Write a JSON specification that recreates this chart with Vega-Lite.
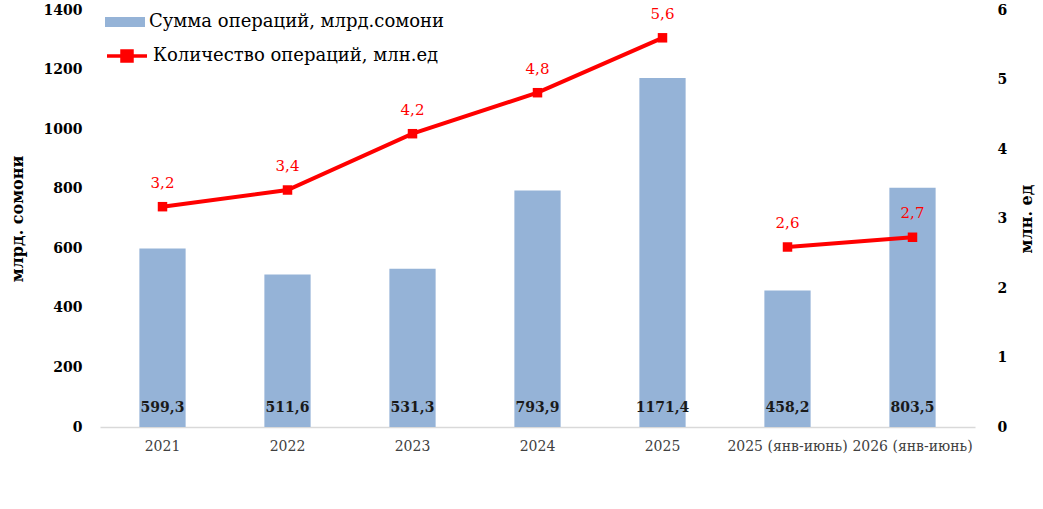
{
  "$schema": "https://vega.github.io/schema/vega-lite/v6.json",
  "width": 875,
  "height": 417,
  "autosize": {"type": "none"},
  "padding": {"left": 100, "top": 10, "right": 68, "bottom": 82},
  "background": "white",
  "config": {
    "view": {"stroke": null},
    "font": "DejaVu Serif",
    "locale": {"number": {"decimal": ",", "thousands": "", "grouping": [3], "currency": ["", ""]}}
  },
  "data": {
    "values": [
      {"period": "2021", "sum": 599.3, "count": 3.17, "grp": "a"},
      {"period": "2022", "sum": 511.6, "count": 3.41, "grp": "a"},
      {"period": "2023", "sum": 531.3, "count": 4.22, "grp": "a"},
      {"period": "2024", "sum": 793.9, "count": 4.81, "grp": "a"},
      {"period": "2025", "sum": 1171.4, "count": 5.6, "grp": "a"},
      {"period": "2025 (янв-июнь)", "sum": 458.2, "count": 2.59, "grp": "b"},
      {"period": "2026 (янв-июнь)", "sum": 803.5, "count": 2.73, "grp": "b"}
    ]
  },
  "encoding": {
    "x": {
      "field": "period", "type": "nominal", "sort": null,
      "scale": {"paddingInner": 0.63, "paddingOuter": 0.315},
      "axis": {
        "title": null, "labelAngle": 0, "ticks": false, "domainColor": "#d9d9d9", "domainWidth": 1.5,
        "labelFont": "DejaVu Serif", "labelFontSize": 14, "labelColor": "#404040", "labelPadding": 12, "grid": false, "labelLimit": 200
      }
    }
  },
  "layer": [
    {
      "layer": [
        {
          "mark": {"type": "bar", "color": "#95b3d7"},
          "encoding": {
            "y": {
              "field": "sum", "type": "quantitative",
              "scale": {"domain": [0, 1400]},
              "axis": {
                "values": [0, 200, 400, 600, 800, 1000, 1200, 1400], "format": "d",
                "title": "млрд. сомони", "titleFont": "DejaVu Serif", "titleFontSize": 16, "titleFontWeight": "bold", "titleColor": "black", "titlePadding": 18,
                "domain": false, "ticks": false, "grid": false,
                "labelFont": "DejaVu Serif", "labelFontSize": 14, "labelFontWeight": "bold", "labelColor": "black", "labelPadding": 18
              }
            },
            "fill": {
              "datum": "Сумма операций, млрд.сомони", "type": "nominal",
              "scale": {"range": ["#95b3d7"]},
              "legend": {
                "title": null, "orient": "none", "legendX": 5, "legendY": -8,
                "symbolType": "M-1,-0.25H1V0.25H-1Z", "symbolSize": 1600, "symbolStrokeWidth": 0,
                "labelFontSize": 18, "labelColor": "black", "labelFont": "DejaVu Serif", "labelLimit": 500
              }
            }
          }
        },
        {
          "mark": {"type": "text", "fontSize": 14, "fontWeight": "bold", "color": "#1a1a1a", "baseline": "middle"},
          "encoding": {
            "y": {"datum": 65, "type": "quantitative"},
            "text": {"field": "sum", "type": "quantitative", "format": ".1f"}
          }
        }
      ]
    },
    {
      "layer": [
        {
          "mark": {"type": "line", "strokeWidth": 4},
          "encoding": {
            "y": {
              "field": "count", "type": "quantitative",
              "scale": {"domain": [0, 6]},
              "axis": {
                "orient": "right", "values": [0, 1, 2, 3, 4, 5, 6], "format": "d",
                "title": "млн. ед", "titleFont": "DejaVu Serif", "titleFontSize": 16, "titleFontWeight": "bold", "titleColor": "black", "titlePadding": 28, "titleAngle": 270,
                "domain": false, "ticks": false, "grid": false,
                "labelFont": "DejaVu Serif", "labelFontSize": 14, "labelFontWeight": "bold", "labelColor": "black", "labelPadding": 22
              }
            },
            "detail": {"field": "grp"},
            "stroke": {
              "datum": "Количество операций, млн.ед", "type": "nominal",
              "scale": {"range": ["#ff0000"]},
              "legend": {
                "title": null, "orient": "none", "legendX": 5, "legendY": 24,
                "symbolType": "M-1,0H1M-0.25,-0.25H0.25V0.25H-0.25Z", "symbolSize": 1600, "symbolStrokeWidth": 3.5,
                "symbolFillColor": "#ff0000",
                "labelFontSize": 18, "labelColor": "black", "labelFont": "DejaVu Serif", "labelLimit": 500
              }
            }
          }
        },
        {
          "mark": {"type": "square", "color": "#ff0000", "size": 90, "opacity": 1},
          "encoding": {
            "y": {"field": "count", "type": "quantitative"}
          }
        },
        {
          "mark": {"type": "text", "fontSize": 15, "color": "#ff0000", "dy": -24, "baseline": "middle"},
          "encoding": {
            "y": {"field": "count", "type": "quantitative"},
            "text": {"field": "count", "type": "quantitative", "format": ".1f"}
          }
        }
      ]
    }
  ],
  "resolve": {"scale": {"y": "independent", "fill": "independent", "stroke": "independent"}}
}
